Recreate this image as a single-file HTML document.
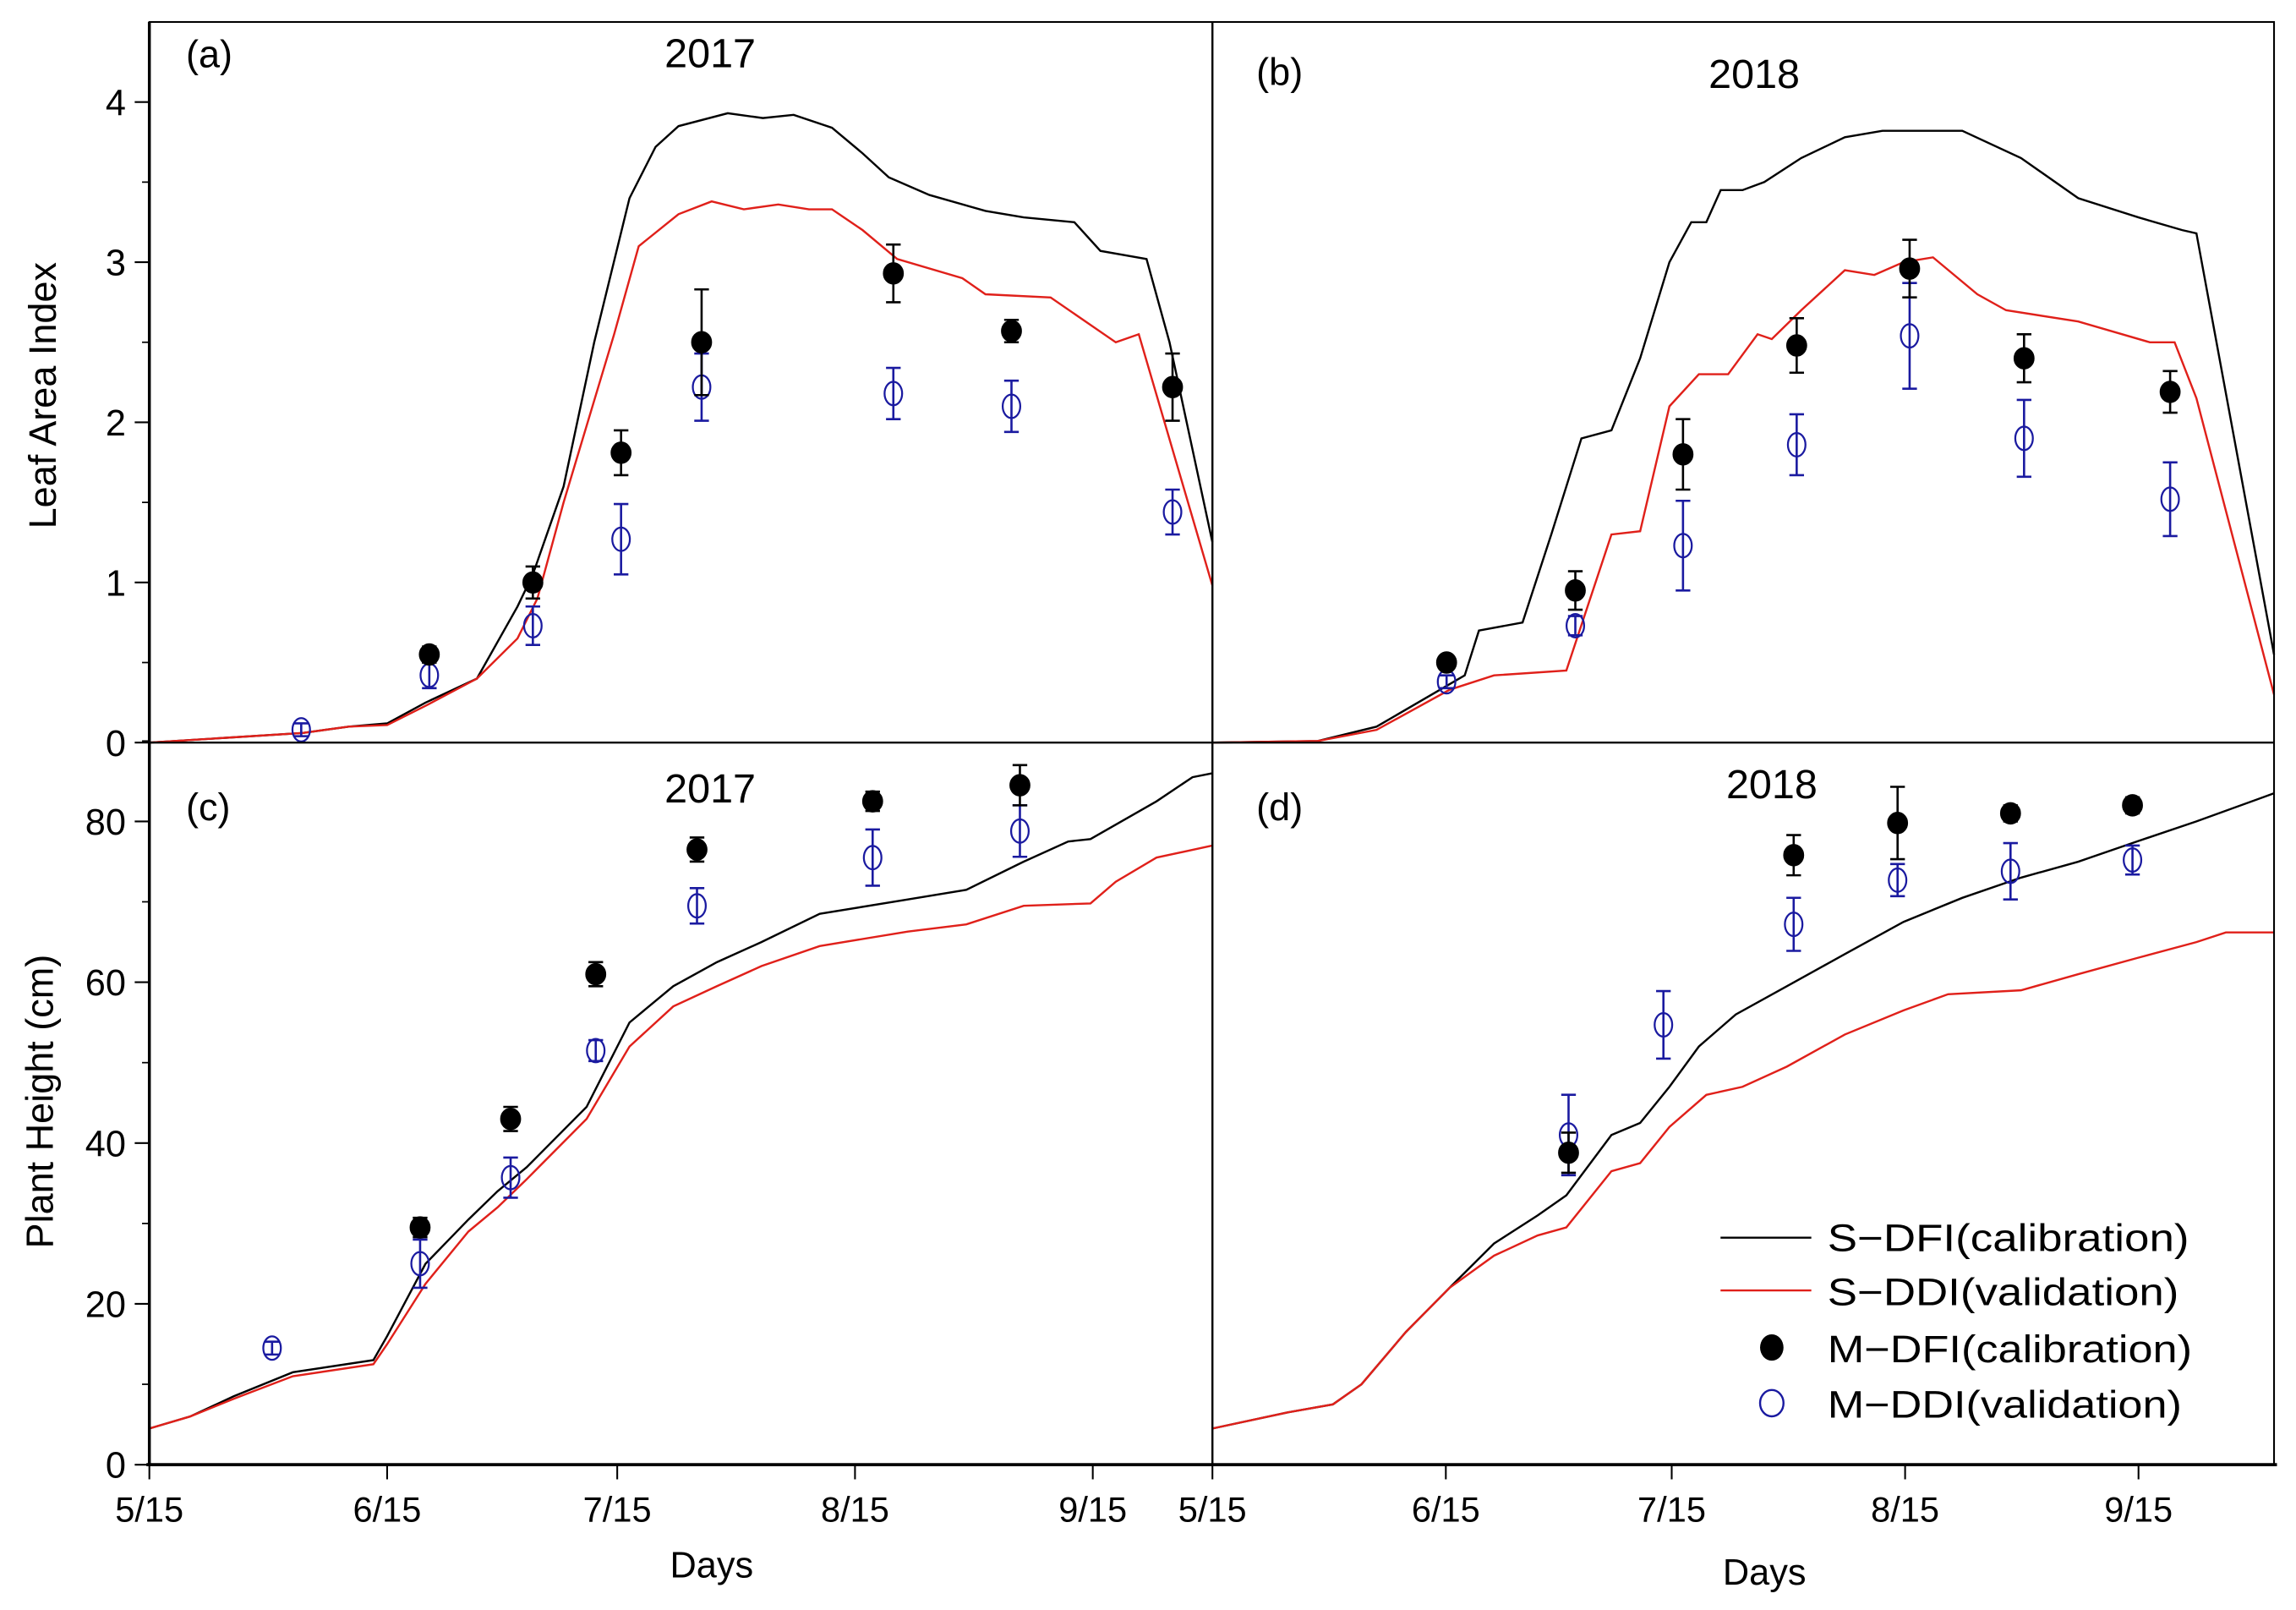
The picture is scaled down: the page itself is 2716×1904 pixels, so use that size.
<!DOCTYPE html>
<html><head><meta charset="utf-8"><style>
html,body{margin:0;padding:0;background:#fff;}
svg{display:block;font-family:"Liberation Sans",Arial,sans-serif;}
</style></head><body>
<svg id="chart" width="2716" height="1904" viewBox="0 0 1568 1099.2" xmlns="http://www.w3.org/2000/svg"></svg>
<script>
// ---- data (x = days since 5/15) ----
const aSimDFIx=[0,10,20,26,31,36,42.7,48,50,54,58,62.6,66,69,75.4,80,84,89,93,96.4,101.7,109,114,120.6,124,130,133,138.6];
const aSimDFIy=[0,0.03,0.06,0.1,0.12,0.25,0.4,0.85,1.05,1.6,2.5,3.4,3.72,3.85,3.93,3.9,3.92,3.84,3.68,3.53,3.42,3.32,3.28,3.25,3.07,3.02,2.5,1.25];
const aSimDDIx=[0,10,20,26,31,36,42.7,48,50.6,54,60.6,63.8,69,73.3,77.5,82,86,89,93,97.5,106,109,117.5,126,129,138.6];
const aSimDDIy=[0,0.03,0.06,0.1,0.11,0.23,0.4,0.65,0.9,1.5,2.55,3.1,3.3,3.38,3.33,3.36,3.33,3.33,3.2,3.02,2.9,2.8,2.78,2.5,2.55,0.98];
const aObsX=[36.5,50,61.5,72,97,112.4,133.4];
const aDFIy=[0.55,1.0,1.81,2.5,2.93,2.57,2.22];
const aDFIe=[0.05,0.1,0.14,0.33,0.18,0.07,0.21];
const aDDIx=[19.8,36.5,50,61.5,72,97,112.4,133.4];
const aDDIy=[0.08,0.42,0.73,1.27,2.22,2.18,2.1,1.44];
const aDDIe=[0.04,0.08,0.12,0.22,0.21,0.16,0.16,0.14];

const bSimDFIx=[0,14,21.8,33.5,35.4,41.2,45,49,53,56.8,60.7,63.6,65.6,67.5,70.4,73.3,78.2,84,89,99.6,107.4,115,123,128.8,130.7,141];
const bSimDFIy=[0,0.01,0.1,0.42,0.7,0.75,1.3,1.9,1.95,2.4,3.0,3.25,3.25,3.45,3.45,3.5,3.65,3.78,3.82,3.82,3.65,3.4,3.28,3.2,3.18,0.55];
const bSimDDIx=[0,14,21.8,31.5,37.4,47,53,56.8,60.7,64.6,68.5,72.4,74.3,78.2,84,87.9,91.8,95.7,101.6,105.4,115,124.5,127.8,130.7,141];
const bSimDDIy=[0,0.01,0.08,0.33,0.42,0.45,1.3,1.32,2.1,2.3,2.3,2.55,2.52,2.7,2.95,2.92,3.0,3.03,2.8,2.7,2.63,2.5,2.5,2.15,0.3];
const bObsX=[31.1,48.2,62.5,77.6,92.6,107.8,127.2];
const bDFIy=[0.5,0.95,1.8,2.48,2.96,2.4,2.19];
const bDFIe=[0.03,0.12,0.22,0.17,0.18,0.15,0.13];
const bDDIy=[0.38,0.73,1.23,1.86,2.54,1.9,1.52];
const bDDIe=[0.04,0.06,0.28,0.19,0.33,0.24,0.23];

const cSimDFIx=[0,5.3,11,18.7,29.2,31,36,41.6,45.4,49.2,57,62.6,68.3,74,79.8,87.4,98.9,106.5,114,119.8,122.7,131.3,136,138.6];
const cSimDFIy=[4.5,6,8.5,11.5,13,16,25,30.5,34,37,44.5,55,59.5,62.5,65,68.5,70.3,71.5,75,77.5,77.8,82.5,85.5,86];
const cSimDDIx=[0,5.3,11,18.7,29.2,31,36,41.6,45.4,49.2,57,62.6,68.3,74,79.8,87.4,98.9,106.5,114,122.7,126,131.3,138.6];
const cSimDDIy=[4.5,6,8.2,11,12.5,15,22.5,29,32,35.5,43,52,57,59.5,62,64.5,66.3,67.2,69.5,69.8,72.5,75.5,77];
const cObsX=[35.3,47.1,58.2,71.4,94.3,113.5];
const cDFIy=[29.5,43,61,76.5,82.5,84.5];
const cDFIe=[1.2,1.5,1.5,1.5,1.2,2.5];
const cDDIx=[16,35.3,47.1,58.2,71.4,94.3,113.5];
const cDDIy=[14.5,25,35.7,51.5,69.5,75.5,78.8];
const cDDIe=[0.8,3,2.5,1.3,2.2,3.5,3.2];

const dSimDFIx=[0,10,16,19.8,25.7,31.5,37.4,43.2,47,53,56.8,60.7,64.6,69.5,76.3,84,91.8,99.6,107.4,115,122.8,130.7,141];
const dSimDFIy=[4.5,6.5,7.5,10,16.5,22,27.5,31,33.5,41,42.5,47,52,56,59.5,63.5,67.5,70.5,73,75,77.5,80,83.5];
const dSimDDIx=[0,10,16,19.8,25.7,31.5,37.4,43.2,47,53,56.8,60.7,65.6,70.4,76.3,84,91.8,97.7,107.4,115,122.8,130.7,134.6,141];
const dSimDDIy=[4.5,6.5,7.5,10,16.5,22,26,28.5,29.5,36.5,37.5,42,46,47,49.5,53.5,56.5,58.5,59,61,63,65,66.2,66.2];
const dObsX=[47.3,77.2,91,106,122.2];
const dDFIy=[38.8,75.8,79.8,81,82];
const dDFIe=[2.5,2.5,4.5,1,1];
const dDDIx=[47.3,59.9,77.2,91,106,122.2];
const dDDIy=[41,54.7,67.2,72.7,73.8,75.2];
const dDDIe=[5,4.2,3.3,2,3.5,1.8];

const xTickDays=[0,31,61,92,123];
const xTickLabels=['5/15','6/15','7/15','8/15','9/15'];
const laiTicks=[0,1,2,3,4];
const phTicks=[0,20,40,60,80];

const NS='http://www.w3.org/2000/svg';
const svg=document.getElementById('chart');
function el(tag,attrs,parent,text){const e=document.createElementNS(NS,tag);for(const k in attrs)e.setAttribute(k,attrs[k]);if(text!==undefined)e.textContent=text;(parent||svg).appendChild(e);return e;}

const panels=[
 {id:'a',x0:102,x1:828,y0:15,y1:507,dmax:138.6,vmax:4.5,sx:[aSimDFIx,aSimDFIy],sd:[aSimDDIx,aSimDDIy],ox:aObsX,oy:aDFIy,oe:aDFIe,bx:aDDIx,by:aDDIy,be:aDDIe},
 {id:'b',x0:828,x1:1553,y0:15,y1:507,dmax:141,vmax:4.5,sx:[bSimDFIx,bSimDFIy],sd:[bSimDDIx,bSimDDIy],ox:bObsX,oy:bDFIy,oe:bDFIe,bx:bObsX,by:bDDIy,be:bDDIe},
 {id:'c',x0:102,x1:828,y0:507,y1:1000,dmax:138.6,vmax:89.8,sx:[cSimDFIx,cSimDFIy],sd:[cSimDDIx,cSimDDIy],ox:cObsX,oy:cDFIy,oe:cDFIe,bx:cDDIx,by:cDDIy,be:cDDIe},
 {id:'d',x0:828,x1:1553,y0:507,y1:1000,dmax:141,vmax:89.8,sx:[dSimDFIx,dSimDFIy],sd:[dSimDDIx,dSimDDIy],ox:dObsX,oy:dDFIy,oe:dDFIe,bx:dDDIx,by:dDDIy,be:dDDIe}
];

panels.forEach(p=>{
 const g=el('g',{});
 
 
 const X=d=>p.x0+(p.x1-p.x0)*d/p.dmax;
 const Y=v=>p.y1-(p.y1-p.y0)*v/p.vmax;
 const line=(xs,ys,color,name)=>{
  const pts=xs.map((d,i)=>X(d).toFixed(1)+','+Y(ys[i]).toFixed(1)).join(' ');
  const l=el('polyline',{points:pts,fill:'none',stroke:color,'stroke-width':1.4},g);
  
  
 };
 line(p.sx[0],p.sx[1],'#000','sim-dfi-line-'+p.id);
 line(p.sd[0],p.sd[1],'#e0201a','sim-ddi-line-'+p.id);
 const errs=(xs,ys,es,color,fill,name)=>{
  xs.forEach((d,i)=>{
   const cx=X(d),cy=Y(ys[i]),t=Y(ys[i]+es[i]),b=Y(ys[i]-es[i]);
   const eg=el('g',{},g);
   
   
   el('line',{x1:cx,y1:t,x2:cx,y2:b,stroke:color,'stroke-width':1.5},eg);
   el('line',{x1:cx-5,y1:t,x2:cx+5,y2:t,stroke:color,'stroke-width':1.5},eg);
   el('line',{x1:cx-5,y1:b,x2:cx+5,y2:b,stroke:color,'stroke-width':1.5},eg);
   el('ellipse',{cx:cx,cy:cy,rx:fill?6.5:6,ry:fill?7:8,fill:fill?'#000':'#fff','fill-opacity':fill?1:0,stroke:color,'stroke-width':1.3},eg);
  });
 };
 errs(p.bx,p.by,p.be,'#1a1aa0',false,'obs-ddi-point-'+p.id);
 errs(p.ox,p.oy,p.oe,'#000',true,'obs-dfi-point-'+p.id);
});

// frame
el('rect',{x:102,y:15,width:1451,height:985,fill:'none',stroke:'#000','stroke-width':1.2});
el('line',{x1:828,y1:15,x2:828,y2:1000,stroke:'#000','stroke-width':1.4});
el('line',{x1:102,y1:507,x2:1553,y2:507,stroke:'#000','stroke-width':1.4});
el('line',{x1:100,y1:1000,x2:1555,y2:1000,stroke:'#000','stroke-width':2.2});
el('line',{x1:102,y1:15,x2:102,y2:1000,stroke:'#000','stroke-width':2});

// x ticks
[[102,828,138.6],[828,1553,141]].forEach((ax,k)=>{
 xTickDays.forEach((d,i)=>{
  const x=ax[0]+(ax[1]-ax[0])*d/ax[2];
  el('line',{x1:x,y1:1000,x2:x,y2:1010,stroke:'#000','stroke-width':1.2});
  const t=el('text',{x:x,y:1039,'font-size':24,'text-anchor':'middle',fill:'#000'},svg,xTickLabels[i]);
  
  
 });
});
// y ticks
laiTicks.forEach(v=>{
 const y=507-(492)*v/4.5;
 el('line',{x1:92,y1:y,x2:102,y2:y,stroke:'#000','stroke-width':1.2});
 if(v<4){const ym=507-492*(v+0.5)/4.5;el('line',{x1:97,y1:ym,x2:102,y2:ym,stroke:'#000','stroke-width':1});}
 const t=el('text',{x:86,y:y+9,'font-size':25,'text-anchor':'end'},svg,String(v));
 
 
});
phTicks.forEach(v=>{
 const y=1000-493*v/89.8;
 el('line',{x1:92,y1:y,x2:102,y2:y,stroke:'#000','stroke-width':1.2});
 const ym=1000-493*(v+10)/89.8;el('line',{x1:97,y1:ym,x2:102,y2:ym,stroke:'#000','stroke-width':1});
 const t=el('text',{x:86,y:y+9,'font-size':25,'text-anchor':'end'},svg,String(v));
 
 
});
</script>
<script>
(function(){
const NS='http://www.w3.org/2000/svg';const svg=document.getElementById('chart');
function txt(x,y,s,size,name,anchor,rot){const t=document.createElementNS(NS,'text');t.setAttribute('x',x);t.setAttribute('y',y);t.setAttribute('font-size',size);t.setAttribute('text-anchor',anchor||'start');if(rot)t.setAttribute('transform',rot);t.textContent=s;


svg.appendChild(t);}
txt(127,46,'(a)',26,'panel-label-a');
txt(485,46,'2017',28,'title-2017-a','middle');
txt(858,58,'(b)',26,'panel-label-b');
txt(1198,60,'2018',28,'title-2018-b','middle');
txt(127,560,'(c)',26,'panel-label-c');
txt(485,548,'2017',28,'title-2017-c','middle');
txt(858,560,'(d)',26,'panel-label-d');
txt(1210,545,'2018',28,'title-2018-d','middle');
txt(38,270,'Leaf Area Index',26,'y-axis-title-lai','middle','rotate(-90 38 270)');
txt(36,752,'Plant Height (cm)',26,'y-axis-title-height','middle','rotate(-90 36 752)');
txt(486,1077,'Days',25,'x-axis-title-left','middle');
txt(1205,1082,'Days',25,'x-axis-title-right','middle');
// legend
const lg=document.createElementNS(NS,'g');


svg.appendChild(lg);
function add(tag,a){const e=document.createElementNS(NS,tag);for(const k in a)e.setAttribute(k,a[k]);lg.appendChild(e);return e;}
add('line',{x1:1175,y1:845,x2:1237,y2:845,stroke:'#000','stroke-width':1.4});
add('line',{x1:1175,y1:881,x2:1237,y2:881,stroke:'#e0201a','stroke-width':1.4});
add('ellipse',{cx:1210,cy:920,rx:8,ry:9,fill:'#000'});
add('ellipse',{cx:1210,cy:958,rx:8,ry:9,fill:'none',stroke:'#1a1aa0','stroke-width':1.4});
[['S\u2212DFI(calibration)',854,247],['S\u2212DDI(validation)',891,240],['M\u2212DFI(calibration)',930,249],['M\u2212DDI(validation)',968,242]].forEach((r,i)=>{
 const t=add('text',{x:1248,y:r[1],'font-size':26,textLength:r[2],lengthAdjust:'spacingAndGlyphs'});t.textContent=r[0];
 
 
});
})();
</script>
</body></html>
